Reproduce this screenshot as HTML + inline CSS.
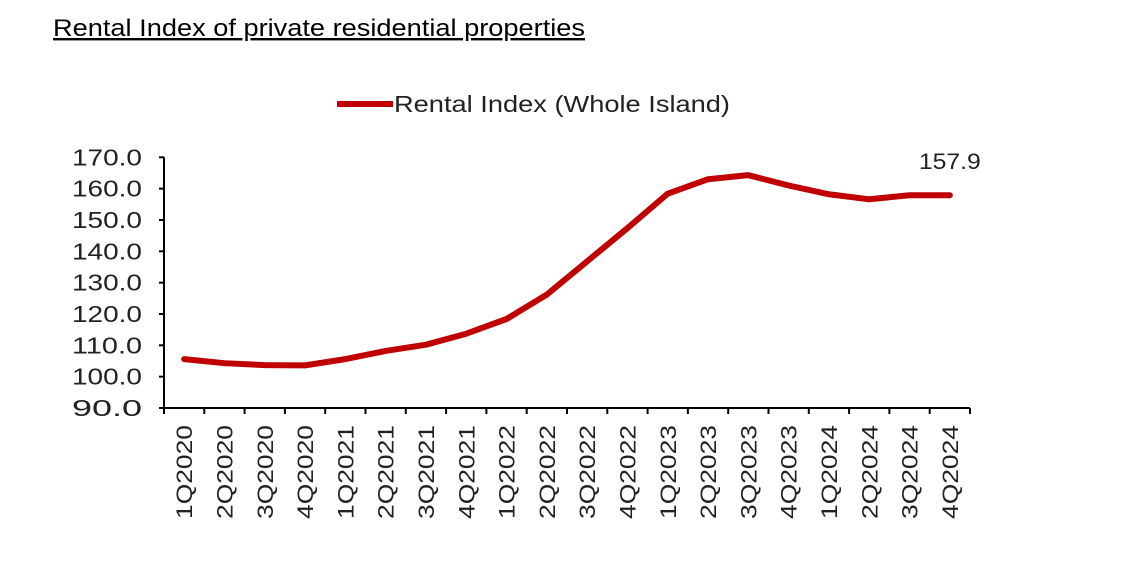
<!DOCTYPE html>
<html><head><meta charset="utf-8"><style>
body{margin:0;background:#fff;width:1123px;height:580px;overflow:hidden}
svg text{font-family:"Liberation Sans",Arial,sans-serif}
</style></head><body>
<svg width="1123" height="580">
<text x="53" y="36" font-size="24" fill="#000" text-decoration="underline" textLength="532" lengthAdjust="spacingAndGlyphs">Rental Index of private residential properties</text>
<g>
<line x1="337" y1="104" x2="393" y2="104" stroke="#c00000" stroke-width="6"/>
<text x="394" y="112" font-size="23" fill="#222" textLength="336" lengthAdjust="spacingAndGlyphs">Rental Index (Whole Island)</text>
</g>
<g id="axes"></g>
<g id="marks"></g>
</svg>
<script>
const categories=["1Q2020","2Q2020","3Q2020","4Q2020","1Q2021","2Q2021","3Q2021","4Q2021","1Q2022","2Q2022","3Q2022","4Q2022","1Q2023","2Q2023","3Q2023","4Q2023","1Q2024","2Q2024","3Q2024","4Q2024"];
const values=[105.6,104.3,103.7,103.6,105.6,108.2,110.2,113.7,118.4,126.2,136.8,147.4,158.4,163.0,164.3,161.0,158.2,156.6,157.9,157.9];
const yTicks=[90,100,110,120,130,140,150,160,170];
const lastLabel="157.9";
const NS="http://www.w3.org/2000/svg";
const x0=164,x1=970,yTop=157.3,yBot=408,yMin=90,yMax=170;
const step=(x1-x0)/categories.length;
const xs=i=>x0+step*(i+0.5);
const ys=v=>yBot-(v-yMin)/(yMax-yMin)*(yBot-yTop);
function mk(t,a,p){const e=document.createElementNS(NS,t);for(const k in a)e.setAttribute(k,a[k]);p.appendChild(e);return e;}
const ax=document.getElementById('axes'),mg=document.getElementById('marks');
const yl=mk('line',{x1:x0,y1:yTop,x2:x0,y2:yBot,stroke:'#000','stroke-width':2},ax);


const xl=mk('line',{x1:x0,y1:yBot,x2:x1,y2:yBot,stroke:'#000','stroke-width':2},ax);


yTicks.forEach(v=>{
 mk('line',{x1:x0-5,y1:ys(v),x2:x0,y2:ys(v),stroke:'#000','stroke-width':2},ax);
 const t=mk('text',{x:x0-22,y:ys(v)+8,'text-anchor':'end','font-size':23,fill:'#222',textLength:70,lengthAdjust:'spacingAndGlyphs'},ax);
 t.textContent=v.toFixed(1);
 
 
});
for(let i=0;i<=categories.length;i++){
 mk('line',{x1:x0+step*i,y1:yBot,x2:x0+step*i,y2:yBot+6,stroke:'#000','stroke-width':2},ax);
}
categories.forEach((c,i)=>{
 const t=mk('text',{x:0,y:0,'text-anchor':'end','font-size':22,fill:'#222',textLength:94,lengthAdjust:'spacingAndGlyphs',transform:`translate(${xs(i)+8},${yBot+17}) rotate(-90)`},ax);
 t.textContent=c;
 
 
});
const pts=values.map((v,i)=>xs(i)+','+ys(v)).join(' ');
const pl=mk('polyline',{points:pts,fill:'none',stroke:'#c00000','stroke-width':6,'stroke-linejoin':'round','stroke-linecap':'round'},mg);


const lt=mk('text',{x:xs(values.length-1)+31,y:ys(values[values.length-1])-26,'text-anchor':'end','font-size':22,fill:'#222',textLength:62,lengthAdjust:'spacingAndGlyphs'},mg);
lt.textContent=lastLabel;


</script>
</body></html>
